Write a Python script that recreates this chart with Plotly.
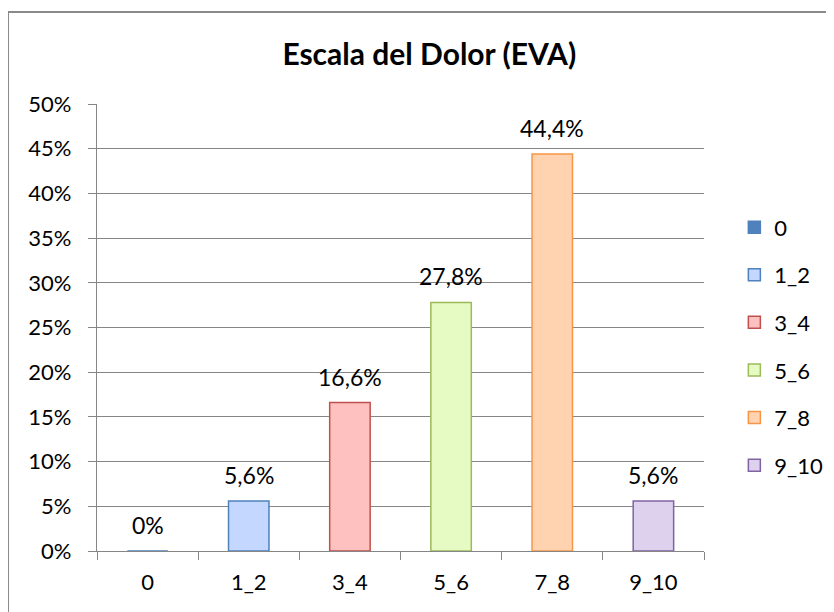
import plotly.graph_objects as go

categories = ["0", "1_2", "3_4", "5_6", "7_8", "9_10"]
values = [0.0, 0.056, 0.166, 0.278, 0.444, 0.056]
fill_colors = ["#4F81BD", "#C4D8FF", "#FFC0C0", "#E6FAC4", "#FFD3B0", "#DDD1EE"]
line_colors = ["#4F81BD", "#4F81BD", "#C0504D", "#9BBB59", "#F79646", "#8064A2"]
title_text = "Escala del Dolor (EVA)"

FONT = "Lato, 'Noto Sans', sans-serif"
FS = 22

def fmt(v):
    if v == 0:
        return "0%"
    return f"{v*100:.1f}".replace(".", ",") + "%"

fig = go.Figure()
for cat, val, fc, lc in zip(categories, values, fill_colors, line_colors):
    fig.add_trace(go.Bar(
        x=[cat], y=[val], name=cat, legendgroup=cat,
        width=0.4,
        marker=dict(color=fc, line=dict(color=lc, width=1.5)),
        hoverinfo="x+y",
    ))
    fig.add_annotation(
        x=cat, y=val, text=fmt(val), showarrow=False,
        yanchor="bottom", yshift=10,
        font=dict(family=FONT, size=23, color="#000000"),
    )

# the page body has an 8px margin, so the figure is 8px smaller
fig.update_layout(
    width=826, height=604,
    paper_bgcolor="white", plot_bgcolor="white",
    barmode="overlay",
    separators=",.",
    margin=dict(l=89, r=130, t=96, b=61, autoexpand=False),
    title=dict(text="<b>" + title_text + "</b>", x=0.51, xanchor="center",
               y=0.923, yanchor="middle",
               font=dict(family=FONT, size=30, color="#000000")),
    font=dict(family=FONT, size=FS, color="#000000"),
    showlegend=True,
    legend=dict(x=1.050, xanchor="left", y=0.771, yanchor="top",
                tracegroupgap=16, font=dict(family=FONT, size=FS),
                bgcolor="rgba(0,0,0,0)"),
    xaxis=dict(
        type="category", categoryorder="array", categoryarray=categories,
        showline=True, linecolor="#868686", linewidth=1.3,
        ticks="outside", tickson="boundaries", ticklen=8, tickcolor="#868686",
        tickwidth=1.3, showgrid=False, tickfont=dict(family=FONT, size=FS),
        ticklabelstandoff=11,
        range=[-0.5, 5.5],
    ),
    yaxis=dict(
        range=[0, 0.5], dtick=0.05, tickformat=".0%",
        showline=True, linecolor="#868686", linewidth=1.3,
        ticks="outside", ticklen=8, tickcolor="#868686", tickwidth=1.3,
        showgrid=True, gridcolor="#868686", gridwidth=1.3,
        zeroline=False, tickfont=dict(family=FONT, size=FS),
        ticklabelstandoff=12,
    ),
    shapes=[dict(type="rect", xref="paper", yref="paper",
                 x0=-0.1466, x1=1.5, y0=-0.5, y1=1.2058,
                 line=dict(color="#8a8a8a", width=2), fillcolor="rgba(0,0,0,0)",
                 layer="below")],
)

fig.write_html("out.html")
